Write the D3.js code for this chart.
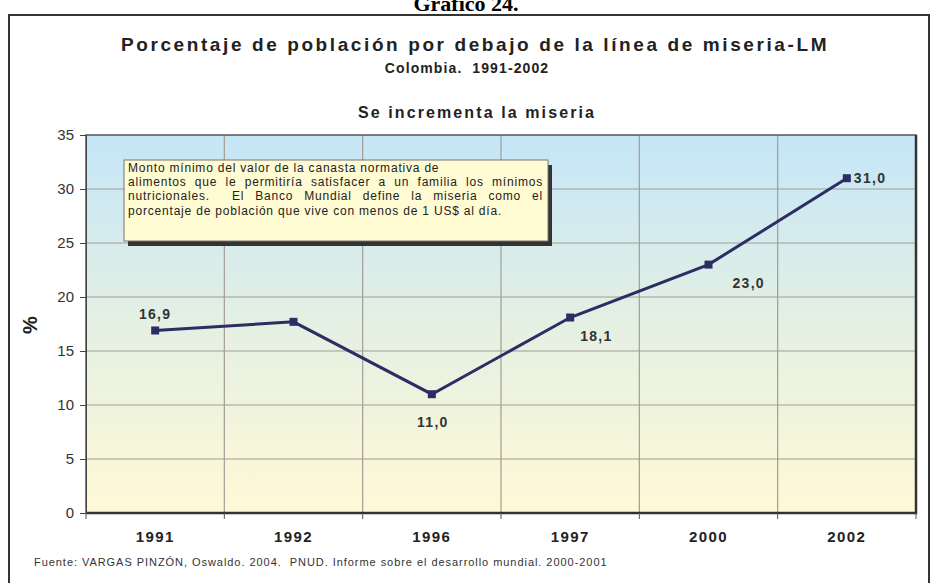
<!DOCTYPE html>
<html>
<head>
<meta charset="utf-8">
<script src="https://cdn.jsdelivr.net/npm/d3@7"></script>
<style>
body { margin: 0; background: #fff; }
text { font-family: "Liberation Sans", Arial, sans-serif; white-space: pre; }
</style>
</head>
<body>
<div id="chart"></div>
<script>
// data
const years = ["1991", "1992", "1996", "1997", "2000", "2002"];
const values = [16.9, 17.7, 11.0, 18.1, 23.0, 31.0];
const shownLabels = ["16,9", "", "11,0", "18,1", "23,0", "31,0"];
const yTicks = [0, 5, 10, 15, 20, 25, 30, 35];
const noteLines = [
  "Monto mínimo del valor de la canasta normativa de",
  "alimentos que le permitiría satisfacer a un familia los mínimos",
  "nutricionales.  El Banco Mundial define la miseria como el",
  "porcentaje de población que vive con menos de 1 US$ al día."
];

const W = 931, H = 583;
const margin = {top: 135, right: 15, bottom: 70, left: 86};

const svg = d3.select("#chart").append("svg").attr("width", W).attr("height", H);

// page heading, mostly cut off at the top
svg.append("text").attr("x", 466).attr("y", 11).attr("text-anchor", "middle")
  .style("font-family", "Liberation Serif, serif").style("font-weight", "bold").style("font-size", "22px")
  .text("Gráfico 24.");

// outer frame
svg.append("rect").attr("x", 9).attr("y", 15).attr("width", 920).attr("height", 580)
  .attr("fill", "none").attr("stroke", "#333").attr("stroke-width", 2);

// titles
svg.append("text").attr("x", 475).attr("y", 51).attr("text-anchor", "middle")
  .style("font-weight", "bold").style("font-size", "19px").style("letter-spacing", "2.6px").attr("fill", "#222")
  .text("Porcentaje de población por debajo de la línea de miseria-LM");
svg.append("text").attr("x", 467).attr("y", 73).attr("text-anchor", "middle")
  .style("font-weight", "bold").style("font-size", "14px").style("letter-spacing", "1.1px").attr("fill", "#222")
  .text("Colombia.  1991-2002");
svg.append("text").attr("x", 477).attr("y", 118).attr("text-anchor", "middle")
  .style("font-weight", "bold").style("font-size", "16px").style("letter-spacing", "2.1px").attr("fill", "#222")
  .text("Se incrementa la miseria");

const x = d3.scaleBand().domain(years).range([margin.left, W - margin.right]);
const y = d3.scaleLinear().domain([0, 35]).range([H - margin.bottom, margin.top]);

// plot background gradient
const grad = svg.append("defs").append("linearGradient").attr("id", "bg")
  .attr("x1", 0).attr("y1", 0).attr("x2", 0).attr("y2", 1);
grad.append("stop").attr("offset", "0%").attr("stop-color", "#c4e6f8");
grad.append("stop").attr("offset", "50%").attr("stop-color", "#e4f0e3");
grad.append("stop").attr("offset", "100%").attr("stop-color", "#fff9d6");

svg.append("rect").attr("x", margin.left).attr("y", margin.top)
  .attr("width", W - margin.right - margin.left).attr("height", H - margin.bottom - margin.top)
  .attr("fill", "url(#bg)");

// gridlines
svg.append("g").selectAll("line").data(yTicks.slice(1, -1)).join("line")
  .attr("x1", margin.left).attr("x2", W - margin.right)
  .attr("y1", d => y(d)).attr("y2", d => y(d))
  .attr("stroke", "#a39c95").attr("stroke-width", 1.2);
svg.append("g").selectAll("line").data(years.slice(1)).join("line")
  .attr("x1", d => x(d)).attr("x2", d => x(d))
  .attr("y1", margin.top).attr("y2", H - margin.bottom)
  .attr("stroke", "#a39c95").attr("stroke-width", 1.2);

// plot border
svg.append("rect").attr("x", margin.left).attr("y", margin.top)
  .attr("width", W - margin.right - margin.left).attr("height", H - margin.bottom - margin.top)
  .attr("fill", "none").attr("stroke", "#555").attr("stroke-width", 1.5);
svg.append("path")
  .attr("d", `M${margin.left},${H - margin.bottom}H${W - margin.right}V${margin.top}`)
  .attr("fill", "none").attr("stroke", "#333").attr("stroke-width", 2.5);

// y axis
const yAxis = svg.append("g").attr("transform", `translate(${margin.left},0)`)
  .call(d3.axisLeft(y).tickValues(yTicks).tickSize(6).tickPadding(6));
yAxis.select(".domain").attr("stroke", "#444");
yAxis.selectAll(".tick line").attr("stroke", "#444");
yAxis.selectAll("text").style("font-size", "15px").attr("fill", "#333");

// x axis
const xAxis = svg.append("g").attr("transform", `translate(0,${H - margin.bottom})`)
  .call(d3.axisBottom(x).tickSize(0).tickPadding(18));
xAxis.select(".domain").remove();
xAxis.selectAll("text").style("font-size", "15px").style("font-weight", "bold")
  .style("letter-spacing", "1.4px").attr("fill", "#222");
xAxis.append("g").selectAll("line").data(years.concat(["end"])).join("line")
  .attr("x1", (d, i) => i < years.length ? x(d) : x.range()[1])
  .attr("x2", (d, i) => i < years.length ? x(d) : x.range()[1])
  .attr("y1", 0).attr("y2", 6).attr("stroke", "#555");

// y title
svg.append("text").attr("transform", "translate(37,325) rotate(-90)").attr("text-anchor", "middle")
  .style("font-weight", "bold").style("font-size", "20px").attr("fill", "#222").text("%");

// series line
const pts = years.map((d, i) => [x(d) + x.bandwidth() / 2, y(values[i])]);
svg.append("path").datum(pts).attr("d", d3.line())
  .attr("fill", "none").attr("stroke", "#2d2d66").attr("stroke-width", 3);
svg.append("g").selectAll("rect").data(pts).join("rect")
  .attr("x", d => d[0] - 4).attr("y", d => d[1] - 4).attr("width", 8).attr("height", 8)
  .attr("fill", "#2d2d66");

// data labels
const place = {
  "1991": [0, -11, "middle"],
  "1996": [1, 33, "middle"],
  "1997": [10, 23, "start"],
  "2000": [24, 23, "start"],
  "2002": [7, 5, "start"]
};
svg.append("g").selectAll("text").data(years.filter((d, i) => shownLabels[i] !== "")).join("text")
  .attr("x", d => x(d) + x.bandwidth() / 2 + place[d][0])
  .attr("y", d => y(values[years.indexOf(d)]) + place[d][1])
  .attr("text-anchor", d => place[d][2])
  .style("font-weight", "bold").style("font-size", "14px").style("letter-spacing", "1.3px").attr("fill", "#333")
  .text(d => shownLabels[years.indexOf(d)]);

// note box
const note = svg.append("g").attr("transform", "translate(124,160)");
note.append("rect").attr("x", 4).attr("y", 5).attr("width", 424).attr("height", 81).attr("fill", "#333");
note.append("rect").attr("x", 0).attr("y", 0).attr("width", 424).attr("height", 81)
  .attr("fill", "#fffbd3").attr("stroke", "#777").attr("stroke-width", 1);
const noteText = note.selectAll("text").data(noteLines).join("text")
  .attr("x", 4).attr("y", (d, i) => 12 + i * 14.2)
  .style("font-size", "12px").style("letter-spacing", "0.8px").attr("fill", "#222")
  .text(d => d);
// justify the middle two lines by stretching word gaps
noteText.filter((d, i) => i === 1 || i === 2).each(function(d) {
  const gaps = d.split(" ").length - 1;
  const extra = (415 - this.getComputedTextLength()) / gaps;
  d3.select(this).style("word-spacing", extra + "px");
});

// source
svg.append("text").attr("x", 34).attr("y", 566)
  .style("font-size", "11px").style("letter-spacing", "0.95px").attr("fill", "#333")
  .text("Fuente: VARGAS PINZÓN, Oswaldo. 2004.  PNUD. Informe sobre el desarrollo mundial. 2000-2001");
</script>
</body>
</html>
